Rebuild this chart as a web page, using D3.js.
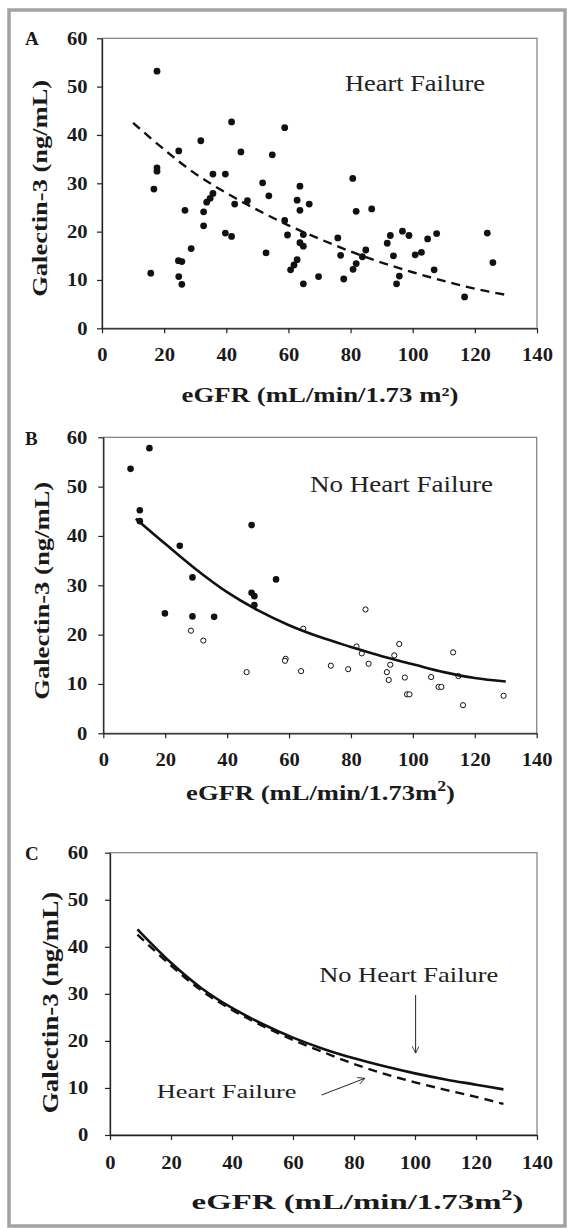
<!DOCTYPE html>
<html>
<head>
<meta charset="utf-8">
<script src="https://cdn.jsdelivr.net/npm/d3@7"></script>
<style>
body { margin: 0; background: #fff; }
svg { display: block; }
svg text { font-family: "Liberation Serif", Tinos, "Times New Roman", "DejaVu Serif", serif; font-stretch: condensed; }
</style>
</head>
<body>
<svg id="fig" width="571" height="1228"></svg>
<script>
// ---- data ----
const xTicks = [0, 20, 40, 60, 80, 100, 120, 140]
const yTicks = [0, 10, 20, 30, 40, 50, 60]

// panel A, heart failure patients
const hfEgfr = [17.7, 24.7, 31.8, 17.7, 17.7, 16.7, 41.7, 44.7, 54.8, 58.8, 35.7, 39.7, 51.7, 63.7, 53.7, 35.7, 34.8, 33.7, 46.8, 42.7,
    62.8, 66.7, 63.7, 26.7, 32.7, 32.7, 58.8, 59.7, 39.7, 41.7, 64.8, 63.7, 64.8, 28.7, 52.8, 62.8, 61.8, 60.7, 24.6, 25.7,
    15.7, 24.7, 25.7, 64.8, 69.7, 80.7, 81.8, 86.8, 75.9, 76.8, 77.8, 84.9, 83.8, 81.8, 80.8, 91.8, 92.8, 96.7, 98.8, 93.8,
    95.7, 94.8, 100.8, 102.8, 104.8, 107.7, 106.9, 116.7, 124.0, 125.8]
const hfGal = [53.2, 36.7, 38.8, 33.2, 32.5, 28.8, 42.7, 36.5, 35.9, 41.5, 31.9, 31.9, 30.1, 29.4, 27.4, 27.9, 26.9, 26.1, 26.4, 25.7,
    26.5, 25.7, 24.4, 24.4, 24.1, 21.2, 22.3, 19.3, 19.7, 19.0, 19.4, 17.7, 17.0, 16.5, 15.6, 14.2, 13.1, 12.1, 14.0, 13.8,
    11.4, 10.7, 9.1, 9.2, 10.7, 31.0, 24.2, 24.7, 18.7, 15.1, 10.2, 16.2, 14.8, 13.4, 12.2, 17.6, 19.2, 20.1, 19.2, 15.0,
    10.8, 9.2, 15.2, 15.7, 18.5, 19.6, 12.1, 6.5, 19.7, 13.6]
const hfFitEgfr = [10, 20, 30, 40, 50, 60, 70, 80, 90, 100, 110, 120, 131]
const hfFitGal = [42.5, 37.0, 32.0, 28.0, 24.5, 21.3, 18.5, 15.9, 13.6, 11.6, 9.8, 8.2, 6.8]

// panel B, no heart failure (filled and open markers)
const nhfFilledEgfr = [8.8, 14.9, 11.8, 11.8, 47.9, 24.7, 28.8, 55.8, 47.9, 48.8, 48.8, 19.9, 28.8, 35.8]
const nhfFilledGal = [53.6, 57.8, 45.2, 43.0, 42.2, 38.0, 31.6, 31.2, 28.5, 27.8, 26.0, 24.3, 23.7, 23.6]
const nhfOpenEgfr = [28.3, 32.3, 46.3, 58.9, 58.7, 63.9, 64.6, 73.5, 79.1, 84.7, 81.8, 83.5, 85.7, 95.6, 94.0, 92.7, 91.6, 92.2,
    97.4, 98.1, 98.9, 105.9, 108.3, 109.2, 113.0, 114.7, 116.2, 129.3]
const nhfOpenGal = [20.8, 18.8, 12.4, 15.1, 14.7, 12.6, 21.2, 13.7, 13.0, 25.1, 17.6, 16.2, 14.1, 18.1, 15.8, 13.9, 12.4, 10.8,
    11.3, 7.9, 7.9, 11.4, 9.4, 9.4, 16.4, 11.6, 5.7, 7.6]
const nhfFitEgfr = [10.5, 20, 30, 40, 50, 60, 70, 80, 90, 100, 110, 120, 130]
const nhfFitGal = [43.5, 38.4, 33.2, 28.6, 24.9, 21.9, 19.5, 17.5, 15.6, 14.0, 12.4, 11.2, 10.5]

// panel C, both fitted curves
const cFitEgfr = [9, 20, 30, 40, 50, 60, 70, 80, 90, 100, 110, 120, 129]
const cNoHfGal = [43.7, 36.6, 31.2, 27.0, 23.6, 20.7, 18.3, 16.3, 14.6, 13.1, 11.8, 10.7, 9.7]
const cHfGal = [42.6, 36.0, 30.7, 26.6, 23.2, 20.2, 17.6, 15.1, 13.0, 11.2, 9.6, 8.1, 6.6]

const svg = d3.select('#fig')

// grey frame round the whole figure
svg.append('rect')
    .attr('x', 9).attr('y', 10)
    .attr('width', 556).attr('height', 1216)
    .attr('fill', 'none')
    .attr('stroke', '#a3a3a3')
    .attr('stroke-width', 3.5)

// squeeze/stretch a text so it spans the width measured on the figure
function fitText(sel, width, tr) {
    const w = sel.node().getComputedTextLength()
    sel.attr('transform', `${tr} scale(${width / w},1)`)
}

// tick digits in the figure are narrow, about 10.3px each
function squeezeTicks(axis, vertical) {
    axis.selectAll('.tick text').each(function () {
        const t = d3.select(this)
        const s = (this.textContent.length * 10.3) / this.getComputedTextLength()
        if (vertical) {
            const tx = +t.attr('x')
            t.attr('x', 0).attr('transform', `translate(${tx},0) scale(${s},1)`)
        } else {
            t.attr('transform', `scale(${s},1)`)
        }
    })
}

function drawPanel(p) {
    const x = d3.scaleLinear().domain([0, 140]).range([p.left, p.right])
    const y = d3.scaleLinear().domain([0, 60]).range([p.bottom, p.top])
    const g = svg.append('g')

    g.append('rect')
        .attr('x', p.left).attr('y', p.top)
        .attr('width', p.right - p.left).attr('height', p.bottom - p.top)
        .attr('fill', 'none')
        .attr('stroke', '#7d7d7d')
        .attr('stroke-width', 1.2)

    const yAxis = g.append('g')
        .attr('transform', `translate(${p.left},0)`)
        .call(d3.axisLeft(y).tickValues(yTicks).tickSize(5).tickSizeOuter(0).tickPadding(p.yPad))
    const xAxis = g.append('g')
        .attr('transform', `translate(0,${p.bottom})`)
        .call(d3.axisBottom(x).tickValues(xTicks).tickSize(5).tickSizeOuter(0).tickPadding(p.xPad))
    for (const a of [yAxis, xAxis]) {
        a.attr('font-family', null)
        a.select('.domain').attr('stroke', '#222').attr('stroke-width', 1.3)
        a.selectAll('.tick line').attr('stroke', '#222').attr('stroke-width', 1.2)
        a.selectAll('.tick text')
            .attr('font-size', 18)
            .attr('font-weight', 'bold')
            .attr('fill', '#1a1a1a')
    }
    squeezeTicks(yAxis, true)
    squeezeTicks(xAxis, false)

    // panel letter
    g.append('text')
        .attr('x', 25).attr('y', p.letterY)
        .attr('font-size', 19).attr('font-weight', 'bold')
        .attr('fill', '#1a1a1a')
        .text(p.letter)

    // y title
    const yt = g.append('text')
        .attr('text-anchor', 'middle')
        .attr('font-size', p.yTitleSize).attr('font-weight', 'bold')
        .attr('fill', '#1a1a1a')
        .text('Galectin-3 (ng/mL)')
    fitText(yt, p.yTitleLen, `translate(${p.yTitleX},${p.yTitleY}) rotate(-90)`)

    // x title
    const xt = g.append('text')
        .attr('text-anchor', 'middle')
        .attr('font-size', 21).attr('font-weight', 'bold')
        .attr('fill', '#1a1a1a')
    if (p.supStyle) {
        xt.append('tspan').text('eGFR (mL/min/1.73m')
        xt.append('tspan').attr('font-size', 14).attr('dy', -9).text('2')
        xt.append('tspan').attr('dy', 9).text(')')
    } else {
        xt.text('eGFR (mL/min/1.73 m²)')
    }
    fitText(xt, p.xTitleLen, `translate(${p.xTitleX},${p.xTitleY})`)

    return { g, x, y }
}

function label(g, x, y, d) {
    const t = g.append('text')
        .attr('font-size', d.size)
        .attr('fill', '#222')
        .text(d.text)
    fitText(t, d.len, `translate(${x(d.at[0])},${y(d.at[1])})`)
}

const curve = d3.line().curve(d3.curveCatmullRom.alpha(0.5))

// ---- panel A ----
{
    const { g, x, y } = drawPanel({
        letter: 'A', letterY: 45,
        left: 102, right: 537, top: 38.3, bottom: 328.3,
        yPad: 9.5, xPad: 15,
        yTitleX: 47.3, yTitleY: 188.3, yTitleLen: 217, yTitleSize: 22,
        xTitleX: 320, xTitleY: 401.7, xTitleLen: 277, supStyle: false
    })
    g.append('g').selectAll('circle')
        .data(d3.zip(hfEgfr, hfGal))
        .join('circle')
        .attr('cx', d => x(d[0])).attr('cy', d => y(d[1]))
        .attr('r', 3.4)
        .attr('fill', '#111')
    g.append('path')
        .attr('d', curve(d3.zip(hfFitEgfr, hfFitGal).map(d => [x(d[0]), y(d[1])])))
        .attr('fill', 'none')
        .attr('stroke', '#111')
        .attr('stroke-width', 2.4)
        .attr('stroke-dasharray', '9,6')
    label(g, x, y, { text: 'Heart Failure', at: [78.2, 49.0], size: 23, len: 140 })
}

// ---- panel B ----
{
    const { g, x, y } = drawPanel({
        letter: 'B', letterY: 445,
        left: 103.3, right: 536.7, top: 437.3, bottom: 733.3,
        yPad: 11, xPad: 15,
        yTitleX: 49, yTitleY: 590.8, yTitleLen: 218, yTitleSize: 22,
        xTitleX: 320.5, xTitleY: 800, xTitleLen: 269, supStyle: true
    })
    g.append('g').selectAll('circle')
        .data(d3.zip(nhfOpenEgfr, nhfOpenGal))
        .join('circle')
        .attr('cx', d => x(d[0])).attr('cy', d => y(d[1]))
        .attr('r', 2.6)
        .attr('fill', '#fff')
        .attr('stroke', '#111')
        .attr('stroke-width', 1)
    g.append('g').selectAll('circle')
        .data(d3.zip(nhfFilledEgfr, nhfFilledGal))
        .join('circle')
        .attr('cx', d => x(d[0])).attr('cy', d => y(d[1]))
        .attr('r', 3.3)
        .attr('fill', '#111')
    g.append('path')
        .attr('d', curve(d3.zip(nhfFitEgfr, nhfFitGal).map(d => [x(d[0]), y(d[1])])))
        .attr('fill', 'none')
        .attr('stroke', '#111')
        .attr('stroke-width', 2.6)
    label(g, x, y, { text: 'No Heart Failure', at: [66.8, 49.0], size: 23, len: 183 })
}

// ---- panel C ----
{
    const { g, x, y } = drawPanel({
        letter: 'C', letterY: 860,
        left: 110, right: 537, top: 852.7, bottom: 1135,
        yPad: 16.7, xPad: 16.5,
        yTitleX: 58, yTitleY: 1002.5, yTitleLen: 221.6, yTitleSize: 23,
        xTitleX: 357.5, xTitleY: 1209, xTitleLen: 332, supStyle: true
    })
    g.append('path')
        .attr('d', curve(d3.zip(cFitEgfr, cHfGal).map(d => [x(d[0]), y(d[1])])))
        .attr('fill', 'none')
        .attr('stroke', '#111')
        .attr('stroke-width', 2.4)
        .attr('stroke-dasharray', '9,6')
    g.append('path')
        .attr('d', curve(d3.zip(cFitEgfr, cNoHfGal).map(d => [x(d[0]), y(d[1])])))
        .attr('fill', 'none')
        .attr('stroke', '#111')
        .attr('stroke-width', 2.6)
    label(g, x, y, { text: 'No Heart Failure', at: [68.6, 32.6], size: 21, len: 179 })
    label(g, x, y, { text: 'Heart Failure', at: [15.3, 7.8], size: 19, len: 140 })

    svg.append('defs').append('marker')
        .attr('id', 'head')
        .attr('viewBox', '0 0 10 10')
        .attr('refX', 10).attr('refY', 5)
        .attr('markerWidth', 7).attr('markerHeight', 7)
        .attr('markerUnits', 'userSpaceOnUse')
        .attr('orient', 'auto')
        .append('path')
        .attr('d', 'M0,0 L10,5 L0,10')
        .attr('fill', 'none')
        .attr('stroke', '#222')
        .attr('stroke-width', 1.2)
    const arrows = [[[100.2, 29.75], [100.2, 17.4]], [[69.4, 8.5], [83.6, 12.05]]]
    g.selectAll('.arrow')
        .data(arrows)
        .join('line')
        .attr('x1', d => x(d[0][0])).attr('y1', d => y(d[0][1]))
        .attr('x2', d => x(d[1][0])).attr('y2', d => y(d[1][1]))
        .attr('stroke', '#222')
        .attr('stroke-width', 1)
        .attr('marker-end', 'url(#head)')
}
</script>
</body>
</html>
